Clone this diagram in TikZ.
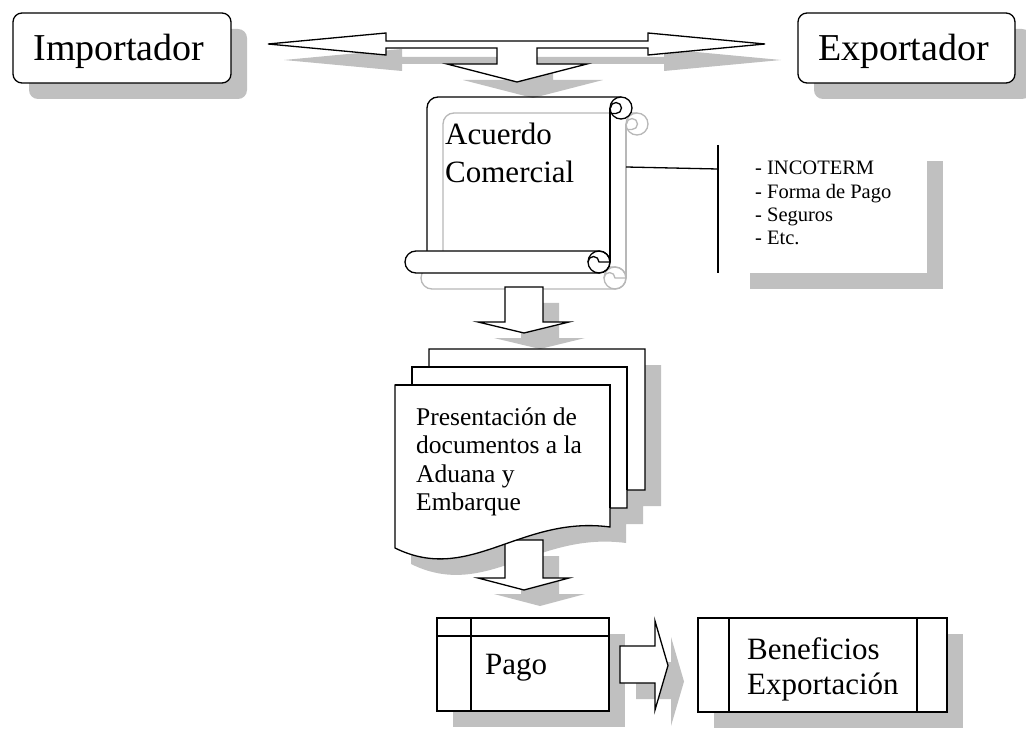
\documentclass[tikz,border=0pt]{standalone}
\usepackage{fontspec}
\setmainfont{Liberation Serif}
\usetikzlibrary{shadows}
\definecolor{shadowgray}{HTML}{C0C0C0}
\definecolor{scrollgray}{HTML}{B8B8B8}
\tikzset{
  ln/.style={line width=1.3pt, line join=miter},
  boxshadow/.style={drop shadow={shadow xshift=16pt, shadow yshift=-16pt, fill=shadowgray, opacity=1}},
  rbox/.style={draw, line width=1.3pt, fill=white, rounded corners=9pt, boxshadow, inner sep=0pt},
  sbox/.style={draw, line width=1.3pt, fill=white, boxshadow, inner sep=0pt},
  txt/.style={inner sep=0pt, anchor=base west, align=left},
}
\newcommand\ThreeWay[1]{\path[#1] (268,44) -- (386,33) -- (386,41) -- (648,41) -- (648,33) -- (765,44) -- (648,55) -- (648,48) -- (537,48) -- (537,64) -- (587,64) -- (517,82) -- (447,64) -- (497,64) -- (497,48) -- (386,48) -- (386,55) -- cycle;}
\newcommand\DownA[1]{\path[#1] (505,287) -- (543,287) -- (543,322) -- (569,322) -- (524,333) -- (478,322) -- (505,322) -- cycle;}
\newcommand\DownB[1]{\path[#1] (505,540) -- (543,540) -- (543,578) -- (569,578) -- (524,590) -- (478,578) -- (505,578) -- cycle;}
\newcommand\RightA[1]{\path[#1] (620,646) -- (655,646) -- (655,621) -- (668,665.5) -- (655,710) -- (655,683) -- (620,683) -- cycle;}
\newcommand\MultiDoc[1]{\path[#1] (429,349) -- (645,349) -- (645,490) -- (627,490) -- (627,508) -- (610,508) -- (610,527) .. controls (520,515) and (470,585) .. (395,548) -- (395,385) -- (412,385) -- (412,367) -- (429,367) -- cycle;}
\newcommand\ScrollShape[2]{%
  \draw[#1] (427,251) -- (427,108) arc[start angle=180,end angle=270,radius=11] -- (621,97);
  \draw[#1] (610,108) -- (610,262);
  \filldraw[#1, fill=#2] (621,108) circle[radius=11];
  \draw[#1] (610.5,108) arc[start angle=180,end angle=450,radius=5.5] -- (610,113.5);
  \filldraw[#1, fill=#2] (416,251) -- (599,251) arc[start angle=270,end angle=450,radius=11] -- (416,273) arc[start angle=90,end angle=270,radius=11] -- cycle;
  \draw[#1] (599,262) circle[radius=11];
  \draw[#1] (588,262) arc[start angle=180,end angle=360,radius=5.5] -- (610,262);
}
\begin{document}
\begin{tikzpicture}[x=1pt,y=-1pt]
\useasboundingbox[fill=white] (0,0) rectangle (1026,730);

% Importador / Exportador
\node[rbox, minimum width=218pt, minimum height=70pt] (imp) at (122,48) {};
\node[txt, anchor=base, font=\fontsize{38}{44}\selectfont] (impt) at (119,61) {Importador};
\node[rbox, minimum width=217pt, minimum height=70pt] (exp) at (906.5,48) {};
\node[txt, anchor=base, font=\fontsize{38}{44}\selectfont] (expt) at (903.5,61) {Exportador};

% three-way arrow
\begin{scope}[shift={(16,16)}]\ThreeWay{fill=shadowgray}\end{scope}
\ThreeWay{ln, draw=black, fill=white}

% scroll
\begin{scope}[shift={(16,16)}]\ScrollShape{ln, draw=scrollgray}{white}\end{scope}
\ScrollShape{ln, draw=black}{white}
\node[txt, font=\fontsize{31}{38}\selectfont] (acuerdo) at (445,183) {Acuerdo\\Comercial};

% callout
\node[fill=white, boxshadow, minimum width=193pt, minimum height=128pt, inner sep=0pt] (co) at (830.5,209) {};
\node[txt, font=\fontsize{20.5}{23.4}\selectfont] (cot) at (755,245) {- INCOTERM\\- Forma de Pago\\- Seguros\\- Etc.};
\coordinate (cbt) at (718,145);
\coordinate (cbb) at (718,273);
\coordinate (cbm) at (718,169);
\coordinate (cs) at (626,167);
\draw[line width=1.3pt] (cs) -- (cbm);
\draw[line width=1.3pt] (cbt) -- (cbb);

% down arrow 1
\begin{scope}[shift={(16,16)}]\DownA{fill=shadowgray}\end{scope}
\DownA{ln, draw=black, fill=white}

% multi document
\begin{scope}[shift={(16,16)}]\MultiDoc{fill=shadowgray}\end{scope}
\begin{scope}[shift={(16,16)}]\DownB{fill=shadowgray}\end{scope}
\DownB{ln, draw=black, fill=white}
\MultiDoc{ln, draw=black, fill=white}
\draw[ln] (412,385) -- (412,367) -- (627,367) -- (627,490);
\draw[ln] (395,385) -- (610,385) -- (610,508);
\node[txt, font=\fontsize{25.5}{28.3}\selectfont] (doc) at (416,510.5) {Presentación de\\documentos a la\\Aduana y\\Embarque};

% Pago
\node[sbox, minimum width=172pt, minimum height=93pt] (pago) at (523,664.5) {};
\draw[ln] (437,636) -- (609,636);
\draw[ln] (471,618) -- (471,711);
\node[txt, font=\fontsize{31}{36}\selectfont] (pagot) at (485,674) {Pago};

% right arrow
\begin{scope}[shift={(16,16)}]\RightA{fill=shadowgray}\end{scope}
\RightA{ln, draw=black, fill=white}

% Beneficios
\node[sbox, minimum width=249pt, minimum height=94pt] (ben) at (822.5,665) {};
\draw[ln] (729,618) -- (729,712);
\draw[ln] (917,618) -- (917,712);
\node[txt, font=\fontsize{31}{35}\selectfont] (bent) at (747,694) {Beneficios\\Exportación};
\end{tikzpicture}
\end{document}
